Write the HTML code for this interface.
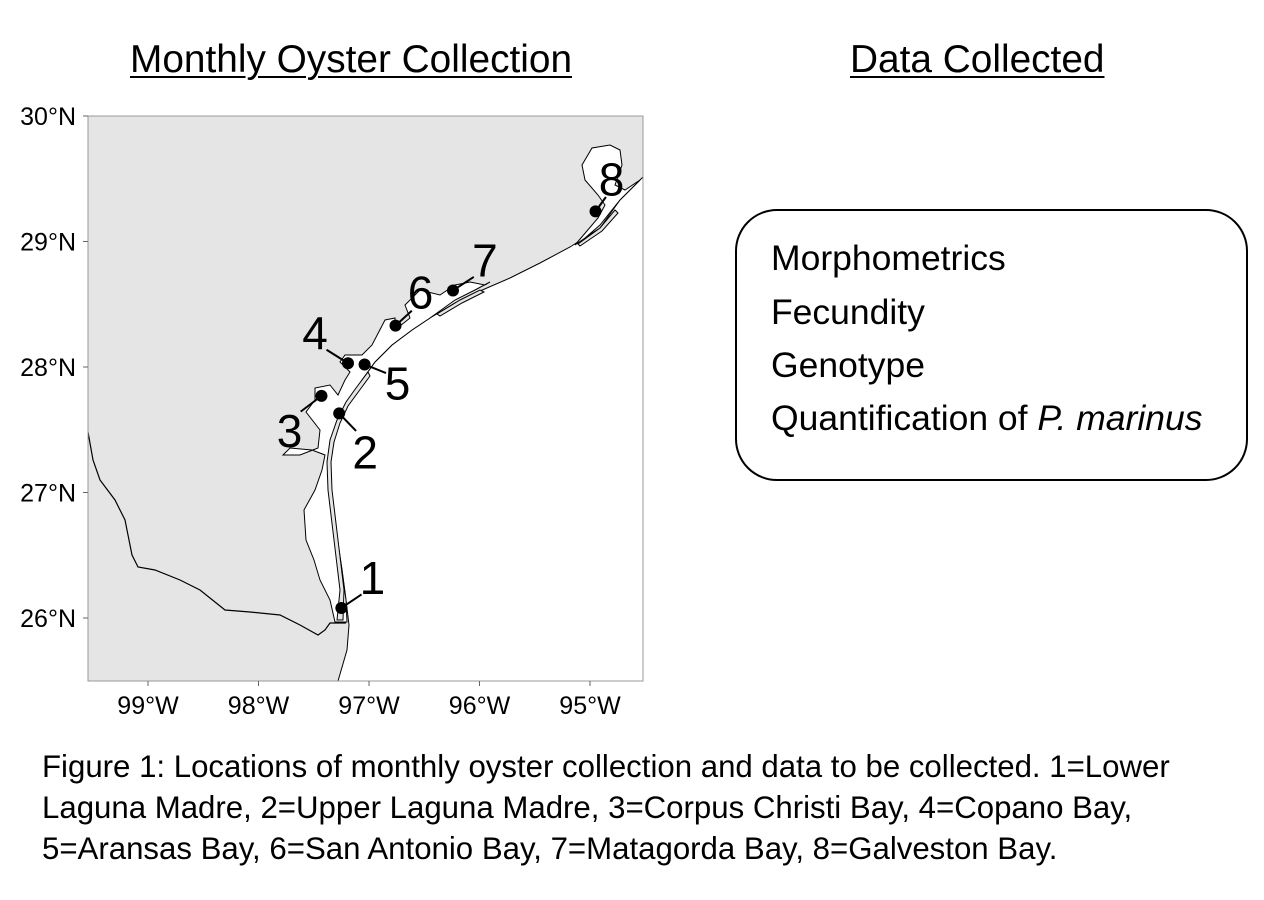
<!DOCTYPE html>
<html><head><meta charset="utf-8"><style>
body{margin:0;background:#fff;width:1264px;height:900px;overflow:hidden;font-family:"Liberation Sans",sans-serif}
.t{position:absolute;font-size:38.8px;text-decoration:underline;text-decoration-thickness:2px;text-underline-offset:4px;color:#000;white-space:nowrap}
.box{position:absolute;left:735px;top:209px;width:509px;height:268px;border:2px solid #000;border-radius:42px}
.box div{position:absolute;left:34px;font-size:35.5px;white-space:nowrap}
.cap{position:absolute;left:42px;top:746px;font-size:31.2px;line-height:41px;white-space:nowrap}
</style></head><body>
<div class="t" style="left:130px;top:38px">Monthly Oyster Collection</div>
<div class="t" style="left:850px;top:38px">Data Collected</div>
<div class="box">
<div style="top:27px">Morphometrics</div>
<div style="top:81px">Fecundity</div>
<div style="top:134px">Genotype</div>
<div style="top:187px">Quantification of <i>P. marinus</i></div>
</div>
<div class="cap">Figure 1: Locations of monthly oyster collection and data to be collected. 1=Lower<br>Laguna Madre, 2=Upper Laguna Madre, 3=Corpus Christi Bay, 4=Copano Bay,<br>5=Aransas Bay, 6=San Antonio Bay, 7=Matagorda Bay, 8=Galveston Bay.</div>
<svg id="map" width="1264" height="900" style="position:absolute;left:0;top:0"></svg>
<script>
const siteIds=["1","2","3","4","5","6","7","8"];
const siteLon=[97.25,97.27,97.43,97.19,97.04,96.76,96.24,94.95];
const siteLat=[26.08,27.63,27.77,28.03,28.02,28.33,28.61,29.24];
const lonTicks=[99,98,97,96,95];
const latTicks=[30,29,28,27,26];
const lx=[31,26,-32,-33,33,25,32,16];
const ly=[-30,39,35,-30,19,-33,-30,-32];
const X=w=>148+(99-w)*110.5, Y=l=>116+(30-l)*125.5;
const svg=document.getElementById('map');const NS="http://www.w3.org/2000/svg";
function add(tag,at,name){const e=document.createElementNS(NS,tag);for(const k in at)e.setAttribute(k,at[k]);


svg.appendChild(e);return e;}
add('rect',{x:88,y:116,width:555,height:565,fill:'#e5e5e5'},'land');
const P=a=>'M'+a.map(p=>p.join(',')).join('L');
add('path',{d:P([[338,681],[347,650],[349,625],[346,600],[342,570],[336,530],[331,490],[330,460],[333,440],[340,420],[350,400],[362,380],[375,362],[392,345],[412,330],[430,318],[455,303],[480,291],[510,278],[540,263],[570,247],[600,228],[620,200],[643,177],[643,681]])+'Z',fill:'#fff',stroke:'#000','stroke-width':1},'gulf-coast');
add('path',{d:P([[335,622],[330,600],[320,580],[314,560],[306,540],[304,510],[315,490],[322,470],[325,455],[312,450],[290,448],[283,455],[300,455],[318,448],[320,430],[306,412],[315,400],[315,388],[330,385],[338,395],[345,380],[350,372],[340,362],[345,355],[362,355],[372,345],[385,320],[395,318],[395,330],[410,318],[405,305],[420,290],[440,295],[455,285],[470,282],[485,285],[490,282],[475,290],[455,300],[430,318],[412,330],[392,345],[375,362],[362,380],[350,400],[340,420],[333,440],[330,460],[331,490],[336,530],[342,570],[346,600],[347,622]])+'Z',fill:'#fff',stroke:'#000','stroke-width':1},'bays-lagoon');
add('path',{d:P([[598,218],[605,205],[598,195],[585,180],[582,165],[592,148],[610,145],[620,150],[622,165],[615,185],[625,190],[640,180],[620,200],[600,225],[585,238],[575,245]])+'Z',fill:'#fff',stroke:'#000','stroke-width':1},'galveston-bay');
add('path',{d:P([[337,620],[340,590],[334,540],[328,490],[327,462],[330,440],[337,420],[346,402],[356,388],[368,372],[370,376],[359,391],[348,406],[340,423],[334,442],[331,462],[332,490],[338,540],[344,590],[343,620]])+'Z',fill:'#e5e5e5',stroke:'#000','stroke-width':1},'barrier-island');
add('path',{d:P([[437,314],[460,300],[480,290],[484,292],[462,303],[440,316]])+'Z',fill:'#e5e5e5',stroke:'#000','stroke-width':1},'matagorda-island');
add('path',{d:P([[578,244],[600,228],[615,210],[618,213],[602,231],[580,246]])+'Z',fill:'#e5e5e5',stroke:'#000','stroke-width':1},'galveston-island');
add('path',{d:P([[88,432],[93,460],[100,480],[115,500],[125,520],[132,555],[138,567],[155,570],[180,580],[200,590],[225,610],[250,612],[280,615],[300,625],[318,635],[325,630],[330,623],[338,623],[346,623]]),fill:'none',stroke:'#000','stroke-width':1.2},'rio-grande-border');
add('rect',{x:88,y:116,width:555,height:565,fill:'none',stroke:'#999','stroke-width':1},'map-frame');
lonTicks.forEach(w=>{add('line',{x1:X(w),x2:X(w),y1:681,y2:686,stroke:'#666'},'x-tick');
const t=add('text',{x:X(w),y:714,'text-anchor':'middle','font-size':25,'font-family':'Liberation Sans'},'x-tick-label');t.textContent=w+'°W';});
latTicks.forEach(l=>{add('line',{x1:83,x2:88,y1:Y(l),y2:Y(l),stroke:'#666'},'y-tick');
const t=add('text',{x:76,y:Y(l)+9,'text-anchor':'end','font-size':25,'font-family':'Liberation Sans'},'y-tick-label');t.textContent=l+'°N';});
siteIds.forEach((s,i)=>{const x=X(siteLon[i]),y=Y(siteLat[i]);
add('line',{x1:x,y1:y,x2:x+lx[i]*0.65,y2:y+ly[i]*0.45,stroke:'#000','stroke-width':2},'site-leader-'+s);
add('circle',{cx:x,cy:y,r:6,fill:'#000'},'site-'+s);
const t=add('text',{x:x+lx[i],y:y+ly[i]+16,'text-anchor':'middle','font-size':46,'font-family':'Liberation Sans'},'site-label-'+s);t.textContent=s;});
</script>
</body></html>
